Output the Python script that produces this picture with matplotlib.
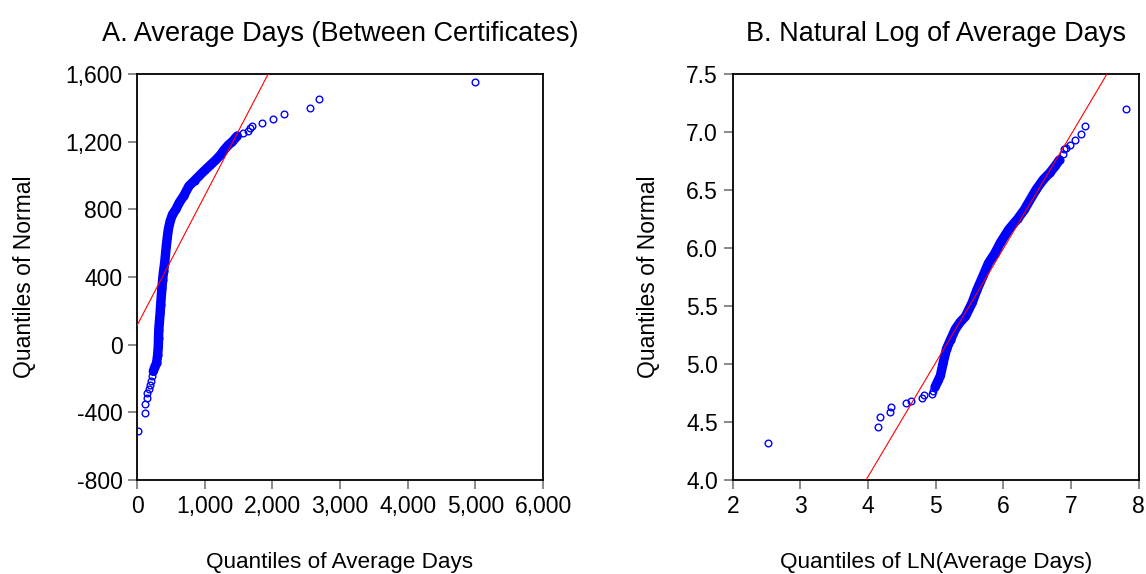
import matplotlib
matplotlib.use("Agg")
import matplotlib.pyplot as plt
from matplotlib.ticker import FuncFormatter, FixedLocator

plt.rcParams['font.family'] = ['Liberation Sans', 'DejaVu Sans']

# Panel A: quantiles of average days (x) vs quantiles of the normal (y)
days_q = [20, 118, 118, 143, 143, 177, 192, 202, 226, 241,
          265, 290, 305, 315, 318, 322, 332, 342, 350, 359, 368, 379,
          393, 409, 421, 433, 447, 463, 490, 525, 575, 625, 690, 768,
          850, 916, 1000, 1080, 1160, 1230, 1285, 1350, 1408, 1482,
          1561, 1640, 1669, 1699, 1851, 2009, 2167, 2555, 2684, 5000]
normal_q_a = [-510, -403, -352, -316, -286, -263, -237, -217, -188, -158,
              -130, -109, -60, -10, 40, 89, 140, 188, 237, 286, 335, 385,
              435, 484, 533, 583, 632, 681, 730, 770, 800, 840, 879, 938,
              970, 997, 1030, 1060, 1090, 1120, 1150, 1180, 1200, 1234,
              1250, 1262, 1280, 1294, 1311, 1333, 1361, 1399, 1450, 1555]
dense_a = slice(9, 44)          # run of points that merge into a solid band
line_a = (113.0, 0.767)         # intercept, slope of reference line

# Panel B: quantiles of ln(average days) vs quantiles of the normal
ln_q = [2.52, 4.14, 4.17, 4.32, 4.34, 4.56, 4.64, 4.80, 4.83, 4.95, 4.96,
        4.99, 5.03, 5.07, 5.11, 5.16, 5.22, 5.29, 5.36, 5.44, 5.54, 5.61,
        5.70, 5.78, 5.87, 5.96, 6.08, 6.21, 6.31, 6.40, 6.48, 6.59, 6.69,
        6.77, 6.83,
        6.88, 6.90, 6.93, 6.99, 7.06, 7.14, 7.20, 7.81]
normal_q_b = [4.32, 4.46, 4.54, 4.59, 4.63, 4.66, 4.68, 4.71, 4.73, 4.74, 4.77,
              4.80, 4.85, 4.90, 5.01, 5.13, 5.21, 5.30, 5.36, 5.41, 5.53, 5.64,
              5.76, 5.87, 5.95, 6.05, 6.16, 6.25, 6.33, 6.42, 6.50, 6.59, 6.65,
              6.71, 6.76,
              6.81, 6.85, 6.86, 6.89, 6.93, 6.98, 7.05, 7.20]
dense_b = slice(11, 35)
line_b = (0.097, 0.983)

titles = ["A. Average Days (Between Certificates)", "B. Natural Log of Average Days"]
xlabels = ["Quantiles of Average Days", "Quantiles of LN(Average Days)"]
ylabel = "Quantiles of Normal"

xticks_a = [0, 1000, 2000, 3000, 4000, 5000, 6000]
yticks_a = [-800, -400, 0, 400, 800, 1200, 1600]
xticks_b = [2, 3, 4, 5, 6, 7, 8]
yticks_b = [4.0, 4.5, 5.0, 5.5, 6.0, 6.5, 7.0, 7.5]

BLUE = "#0000FF"
RED = "#FF0000"

fig = plt.figure(figsize=(11.46, 5.74), dpi=100)
ax_a = fig.add_axes([137 / 1146, 1 - 480 / 574, 406 / 1146, 406 / 574])
ax_b = fig.add_axes([732.7 / 1146, 1 - 480 / 574, 406 / 1146, 406 / 574])


def draw_panel(ax, xq, yq, dense, line, xlim, ylim, xticks, yticks, xfmt, yfmt,
               title, xlabel, ylabelpad):
    ax.plot(xq[dense], yq[dense], color=BLUE, lw=6.8, solid_capstyle='round',
            solid_joinstyle='round', zorder=2)
    ax.plot(xq, yq, linestyle='none', marker='o', ms=4.8, mfc='none',
            mec=BLUE, mew=1.0, zorder=3)
    a, b = line
    ax.plot(xlim, [a + b * xlim[0], a + b * xlim[1]], color=RED, lw=0.8, zorder=4)
    ax.set_xlim(xlim)
    ax.set_ylim(ylim)
    ax.xaxis.set_major_locator(FixedLocator(xticks))
    ax.yaxis.set_major_locator(FixedLocator(yticks))
    ax.xaxis.set_major_formatter(FuncFormatter(xfmt))
    ax.yaxis.set_major_formatter(FuncFormatter(yfmt))
    ax.tick_params(direction='out', length=6.5, width=1.3, color='#808080',
                   labelsize=16.5, pad=4, top=False, right=False)
    for s in ax.spines.values():
        s.set_linewidth(1.3)
        s.set_color('black')
    ax.set_title(title, fontsize=19.5, pad=24)
    ax.set_xlabel(xlabel, fontsize=16.2, labelpad=25)
    ax.set_ylabel(ylabel, fontsize=16.5, labelpad=ylabelpad)


draw_panel(ax_a, days_q, normal_q_a, dense_a, line_a, (0, 6000), (-800, 1600),
           xticks_a, yticks_a, lambda v, p: f"{v:,.0f}", lambda v, p: f"{v:,.0f}",
           titles[0], xlabels[0], 21)
draw_panel(ax_b, ln_q, normal_q_b, dense_b, line_b, (2, 8), (4.0, 7.5),
           xticks_b, yticks_b, lambda v, p: f"{v:.0f}", lambda v, p: f"{v:.1f}",
           titles[1], xlabels[1], 19)

fig.savefig("out.png", dpi=100)
